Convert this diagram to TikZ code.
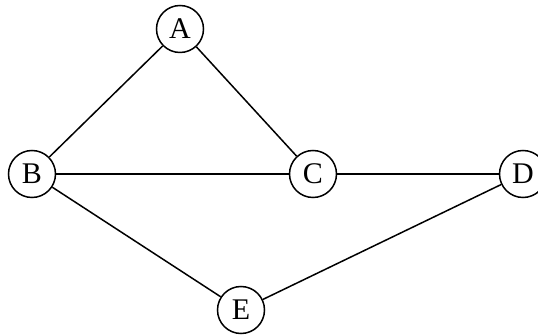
\documentclass[tikz,border=0pt]{standalone}
\usepackage{fontspec}
\setmainfont{Liberation Serif}
\begin{document}
\begin{tikzpicture}[x=1pt,y=-1pt,
  vertex/.style={draw,circle,line width=1.5pt,minimum size=47pt,inner sep=0pt,
    font=\fontsize{30}{30}\selectfont},
  edge/.style={line width=1.5pt}]
\useasboundingbox (0,0) rectangle (538,336);
\node[vertex] (A) at (180,29) {A};
\node[vertex] (B) at (32,174) {B};
\node[vertex] (C) at (313,174) {C};
\node[vertex] (D) at (523,174) {D};
\node[vertex] (E) at (241,310) {E};
\draw[edge] (A) -- (B);
\draw[edge] (A) -- (C);
\draw[edge] (B) -- (C);
\draw[edge] (C) -- (D);
\draw[edge] (B) -- (E);
\draw[edge] (E) -- (D);
\end{tikzpicture}
\end{document}
